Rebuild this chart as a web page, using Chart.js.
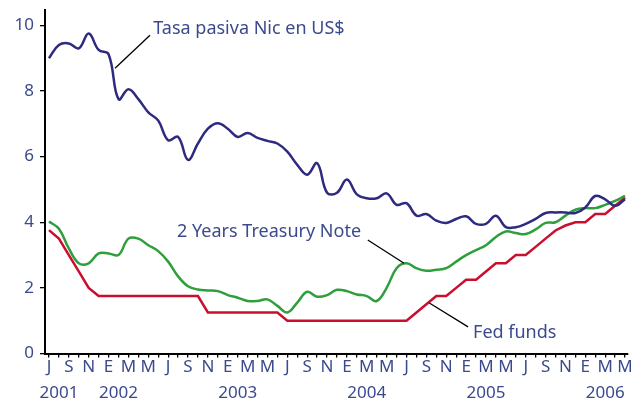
<!DOCTYPE html>
<html lang="es">
<head>
<meta charset="UTF-8">
<title>Tasas de interés</title>
<script src="https://cdn.jsdelivr.net/npm/chart.js"></script>
<style>
  html, body { margin: 0; padding: 0; background: #fff; }
  #contenedor { width: 636px; height: 402px; }
</style>
</head>
<body>
<div id="contenedor"><canvas id="grafico"></canvas></div>
<script>
// Serie mensual: julio 2001 a mayo 2006
const mesesLetra = ['J', 'A', 'S', 'O', 'N', 'D', 'E', 'F', 'M', 'A', 'M', 'J'];
const anios = ['2001', '2002', '2003', '2004', '2005', '2006'];
const mesAnio = [1, 7, 19, 32, 44, 56]; // mes bajo el cual va el rótulo del año
const yTicks = [0, 2, 4, 6, 8, 10];

const tasaPasiva = [
  9.0, 9.4, 9.45, 9.3, 9.75, 9.25, 9.12, 7.75, 8.05, 7.75,
  7.35, 7.1, 6.5, 6.6, 5.9, 6.4, 6.85, 7.02, 6.85, 6.6,
  6.72, 6.57, 6.48, 6.4, 6.15, 5.75, 5.45, 5.8, 4.9, 4.9,
  5.3, 4.85, 4.73, 4.73, 4.88, 4.53, 4.58, 4.2, 4.25, 4.05,
  3.98, 4.1, 4.18, 3.95, 3.95, 4.2, 3.85, 3.85, 3.95, 4.1,
  4.28, 4.3, 4.3, 4.28, 4.45, 4.8, 4.7, 4.5, 4.7
];
const treasury2 = [
  4.02, 3.8, 3.2, 2.75, 2.75, 3.05, 3.05, 3.0, 3.5, 3.5,
  3.3, 3.12, 2.8, 2.35, 2.05, 1.95, 1.92, 1.9, 1.78, 1.7,
  1.6, 1.6, 1.65, 1.45, 1.25, 1.55, 1.88, 1.73, 1.78, 1.94,
  1.9, 1.8, 1.75, 1.6, 2.0, 2.6, 2.75, 2.6, 2.52, 2.55,
  2.6, 2.8, 3.0, 3.15, 3.3, 3.55, 3.72, 3.67, 3.64, 3.78,
  3.98, 4.0, 4.2, 4.38, 4.43, 4.43, 4.53, 4.65, 4.8
];
const fedFunds = [
  3.76, 3.5, 3.0, 2.5, 2.0, 1.75, 1.75, 1.75, 1.75, 1.75,
  1.75, 1.75, 1.75, 1.75, 1.75, 1.75, 1.25, 1.25, 1.25, 1.25,
  1.25, 1.25, 1.25, 1.25, 1.0, 1.0, 1.0, 1.0, 1.0, 1.0,
  1.0, 1.0, 1.0, 1.0, 1.0, 1.0, 1.0, 1.25, 1.5, 1.75,
  1.75, 2.0, 2.25, 2.25, 2.5, 2.75, 2.75, 3.0, 3.0, 3.25,
  3.5, 3.75, 3.9, 4.0, 4.0, 4.25, 4.25, 4.5, 4.75
];

const colorTexto = '#3b4a8e';
const fuente = '"Noto Sans", sans-serif';

// etiquetas con línea guía (coordenadas en unidades de datos)
const anotaciones = [
  { texto: 'Tasa pasiva Nic en US$', x: 10.5, y: 9.9, guia: [[10.17, 9.70], [6.65, 8.69]] },
  { texto: '2 Years Treasury Note', x: 12.9, y: 3.70, guia: [[32.1, 3.46], [35.75, 2.75]] },
  { texto: 'Fed funds', x: 42.7, y: 0.62, guia: [[38.3, 1.54], [42.2, 0.81]] }
];

function aPuntos(valores) {
  return valores.map((v, i) => ({ x: i, y: v }));
}

function rotuloMes(v) {
  const letra = v % 2 === 0 ? mesesLetra[v % 12] : '';
  const k = mesAnio.indexOf(v);
  return k >= 0 ? [letra, anios[k]] : letra;
}

const pluginAnotaciones = {
  id: 'anotaciones',
  afterDatasetsDraw(chart) {
    const ctx = chart.ctx;
    const sx = chart.scales.x, sy = chart.scales.y;
    ctx.save();
    anotaciones.forEach(a => {
      ctx.beginPath();
      ctx.strokeStyle = '#000';
      ctx.lineWidth = 1.3;
      ctx.moveTo(sx.getPixelForValue(a.guia[0][0]), sy.getPixelForValue(a.guia[0][1]));
      ctx.lineTo(sx.getPixelForValue(a.guia[1][0]), sy.getPixelForValue(a.guia[1][1]));
      ctx.stroke();
      ctx.fillStyle = colorTexto;
      ctx.font = '18px ' + fuente;
      ctx.textAlign = 'left';
      ctx.textBaseline = 'middle';
      ctx.fillText(a.texto, sx.getPixelForValue(a.x), sy.getPixelForValue(a.y));
    });
    ctx.restore();
  }
};

const ctx = document.getElementById('grafico').getContext('2d');
new Chart(ctx, {
  type: 'line',
  data: {
    datasets: [
      { label: 'Tasa pasiva Nic en US$', data: aPuntos(tasaPasiva), borderColor: '#2e2a80', borderWidth: 2.5, tension: 0.4 },
      { label: '2 Years Treasury Note', data: aPuntos(treasury2), borderColor: '#2f9e3c', borderWidth: 2.5, tension: 0.4 },
      { label: 'Fed funds', data: aPuntos(fedFunds), borderColor: '#c8102e', borderWidth: 2.5, tension: 0 }
    ]
  },
  options: {
    responsive: true,
    maintainAspectRatio: false,
    animation: false,
    layout: { padding: { top: 0, right: 8, left: 0, bottom: 0 } },
    elements: { point: { radius: 0 } },
    plugins: { legend: { display: false }, tooltip: { enabled: false } },
    scales: {
      x: {
        type: 'linear',
        min: -0.4,
        max: 58.3,
        afterBuildTicks: s => { s.ticks = tasaPasiva.map((_, i) => ({ value: i })); },
        afterFit: s => { s.height = 48.5; },
        grid: { drawOnChartArea: false, drawTicks: true, tickLength: 4, color: '#000', lineWidth: 1.3 },
        border: { color: '#000', width: 2 },
        ticks: {
          autoSkip: false, maxRotation: 0, padding: -3,
          color: colorTexto, font: { family: fuente, size: 17, lineHeight: 1.53 },
          callback: rotuloMes
        }
      },
      y: {
        min: 0,
        max: 10.46,
        afterBuildTicks: s => { s.ticks = yTicks.map(v => ({ value: v })); },
        afterFit: s => { s.width = 45; },
        grid: { drawOnChartArea: false, drawTicks: true, tickLength: 5, color: '#000', lineWidth: 1.3 },
        border: { color: '#000', width: 2 },
        ticks: { padding: 6, color: colorTexto, font: { family: fuente, size: 17, lineHeight: 0.5 } }
      }
    }
  },
  plugins: [pluginAnotaciones]
});
</script>
</body>
</html>
